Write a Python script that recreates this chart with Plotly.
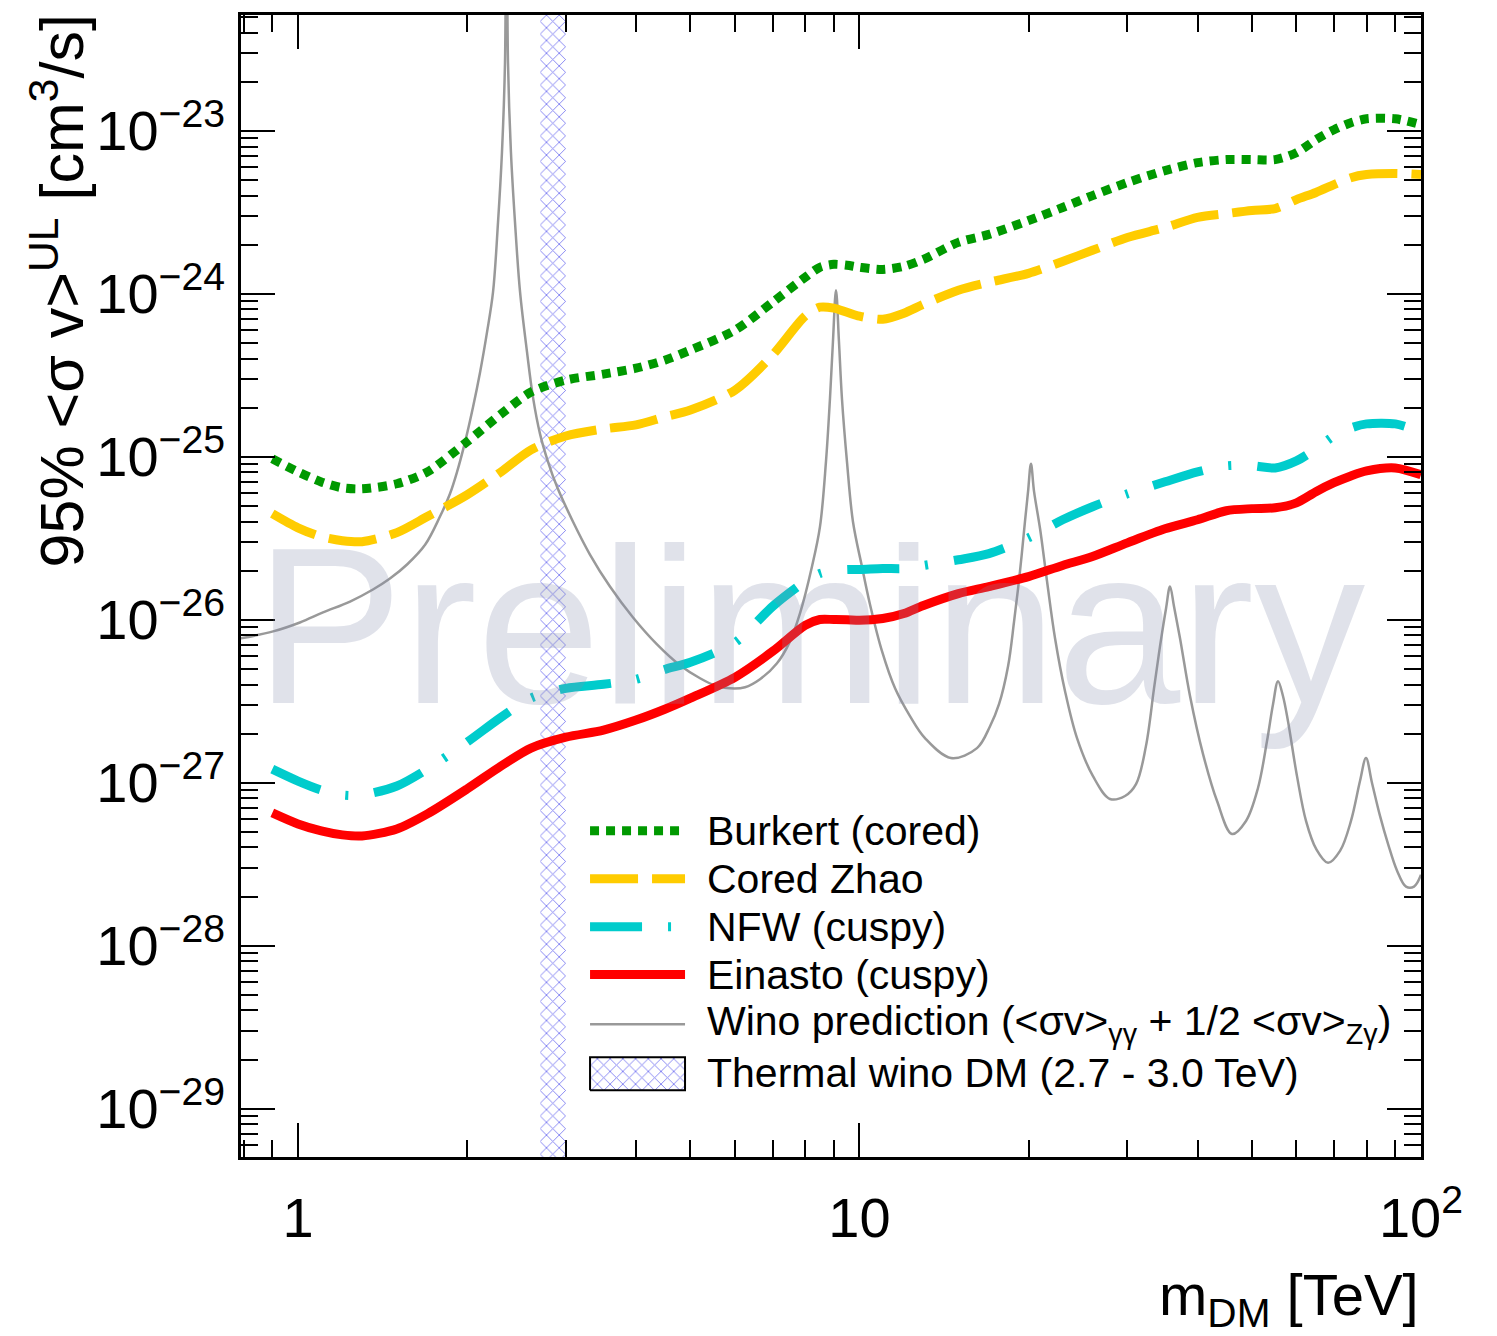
import math
import plotly.graph_objects as go

# ---------------- data ----------------
mass_grid = [0.9, 1.0, 1.1, 1.2, 1.3, 1.5, 1.7, 2.0, 2.3, 2.6,
             3.0, 3.5, 4.0, 4.5, 5.0, 6.0, 7.0, 8.0, 8.5, 9.0,
             9.5, 10, 11, 12, 13, 15, 17, 20, 23, 26,
             30, 35, 40, 45, 50, 55, 60, 65, 70, 75,
             80, 90, 100]

burkert = [9.70e-26, 8.07e-26, 7.00e-26, 6.44e-26, 6.35e-26, 6.82e-26, 8.07e-26, 1.233e-25, 1.828e-25, 2.49e-25,
           2.95e-25, 3.21e-25, 3.49e-25, 3.91e-25, 4.51e-25, 5.97e-25, 8.85e-25, 1.259e-24, 1.452e-24, 1.514e-24,
           1.493e-24, 1.452e-24, 1.409e-24, 1.472e-24, 1.626e-24, 2.065e-24, 2.31e-24, 2.81e-24, 3.38e-24, 4.00e-24,
           4.81e-24, 5.69e-24, 6.37e-24, 6.65e-24, 6.65e-24, 6.65e-24, 7.33e-24, 8.81e-24, 1.014e-23, 1.119e-23,
           1.183e-23, 1.183e-23, 1.089e-23]

cored_zhao = [4.47e-26, 3.66e-26, 3.23e-26, 3.05e-26, 3.01e-26, 3.42e-26, 4.29e-26, 5.83e-26, 8.07e-26, 1.101e-25,
              1.340e-25, 1.479e-25, 1.567e-25, 1.754e-25, 1.932e-25, 2.56e-25, 4.20e-25, 7.28e-25, 8.26e-25, 8.15e-25,
              7.69e-25, 7.28e-25, 6.97e-25, 7.59e-25, 8.61e-25, 1.050e-24, 1.175e-24, 1.334e-24, 1.578e-24, 1.845e-24,
              2.213e-24, 2.55e-24, 2.94e-24, 3.10e-24, 3.24e-24, 3.33e-24, 3.78e-24, 4.18e-24, 4.67e-24, 5.15e-24,
              5.38e-24, 5.46e-24, 5.38e-24]

nfw = [1.211e-27, 1.023e-27, 9.01e-28, 8.40e-28, 8.40e-28, 9.53e-28, 1.211e-27, 1.771e-27, 2.52e-27, 3.30e-27,
       3.79e-27, 4.01e-27, 4.31e-27, 4.95e-27, 5.47e-27, 7.24e-27, 1.205e-26, 1.714e-26, 1.919e-26, 2.00e-26,
       2.03e-26, 2.03e-26, 2.06e-26, 2.06e-26, 2.15e-26, 2.33e-26, 2.54e-26, 3.18e-26, 4.10e-26, 4.93e-26,
       5.92e-26, 7.01e-26, 8.07e-26, 8.79e-26, 8.79e-26, 8.53e-26, 9.42e-26, 1.117e-25, 1.340e-25, 1.500e-25,
       1.589e-25, 1.589e-25, 1.419e-25]

einasto = [6.52e-28, 5.58e-28, 5.06e-28, 4.78e-28, 4.71e-28, 5.20e-28, 6.43e-28, 9.14e-28, 1.265e-27, 1.629e-27,
           1.901e-27, 2.10e-27, 2.42e-27, 2.82e-27, 3.30e-27, 4.43e-27, 6.38e-27, 9.23e-27, 1.002e-26, 1.002e-26,
           1.000e-26, 9.90e-27, 1.016e-26, 1.091e-26, 1.222e-26, 1.445e-26, 1.596e-26, 1.837e-26, 2.15e-26, 2.44e-26,
           2.96e-26, 3.61e-26, 4.10e-26, 4.66e-26, 4.80e-26, 4.86e-26, 5.21e-26, 6.10e-26, 6.92e-26, 7.62e-26,
           8.18e-26, 8.53e-26, 7.74e-26]

wino_mass = [0.79, 0.903, 1.008, 1.108, 1.238, 1.360, 1.458, 1.564, 1.684, 1.790,
             1.865, 1.920, 1.984, 2.050, 2.110, 2.171, 2.225, 2.271, 2.308, 2.337,
             2.351, 2.366, 2.395, 2.435, 2.486, 2.558, 2.621, 2.698, 2.788, 2.893,
             3.089, 3.311, 3.594, 3.951, 4.359, 4.789, 5.200, 5.529, 5.881, 6.254,
             6.650, 7.130, 7.520, 7.834, 8.230, 8.504, 8.715, 8.859, 8.968, 9.081,
             9.193, 9.307, 9.500, 9.736, 10.10, 10.44, 10.97, 11.57, 12.30, 13.08,
             14.55, 16.19, 17.08, 17.72, 18.39, 18.85, 19.31, 19.71, 19.96, 20.20,
             20.46, 20.97, 21.58, 22.30, 23.23, 24.40, 26.05, 27.93, 29.71, 31.08,
             32.37, 33.46, 34.29, 35.15, 35.73, 36.32, 37.23, 38.79, 40.91, 43.33,
             46.07, 48.79, 51.25, 53.18, 54.51, 55.64, 56.79, 57.96, 60.14, 62.40,
             65.02, 68.31, 71.75, 75.04, 77.87, 79.81, 81.80, 84.53, 87.35, 90.65,
             94.04, 97.17, 100.0]

wino_sv = [7.67e-27, 8.47e-27, 9.61e-27, 1.107e-26, 1.291e-26, 1.531e-26, 1.787e-26, 2.18e-26, 2.88e-26, 4.29e-26,
           5.92e-26, 8.07e-26, 1.233e-25, 2.02e-25, 3.30e-25, 5.81e-25, 1.021e-24, 2.74e-24, 7.33e-24, 2.61e-23,
           1.0e-21, 2.61e-23, 7.33e-24, 2.74e-24, 1.021e-24, 4.38e-25, 2.32e-25, 1.380e-25, 9.29e-26, 6.53e-26,
           3.99e-26, 2.51e-26, 1.596e-26, 1.031e-26, 7.05e-27, 5.25e-27, 4.37e-27, 3.95e-27, 3.79e-27, 3.85e-27,
           4.31e-27, 5.40e-27, 7.36e-27, 1.091e-26, 2.12e-26, 3.72e-26, 9.29e-26, 2.26e-25, 5.05e-25, 1.050e-24,
           5.05e-25, 2.26e-25, 9.29e-26, 3.99e-26, 2.12e-26, 1.239e-26, 6.38e-27, 3.79e-27, 2.56e-27, 1.875e-27,
           1.416e-27, 1.629e-27, 2.22e-27, 3.03e-27, 5.18e-27, 9.75e-27, 1.972e-26, 3.99e-26, 6.10e-26, 9.04e-26,
           6.10e-26, 3.61e-26, 1.714e-26, 7.67e-27, 3.64e-27, 1.875e-27, 1.096e-27, 7.94e-28, 8.28e-28, 9.79e-28,
           1.675e-27, 3.79e-27, 6.85e-27, 1.172e-26, 1.596e-26, 1.205e-26, 7.67e-27, 3.39e-27, 1.496e-27, 7.71e-28,
           4.84e-28, 5.82e-28, 9.27e-28, 1.799e-27, 3.03e-27, 4.19e-27, 3.39e-27, 2.38e-27, 1.096e-27, 5.82e-28,
           3.93e-28, 3.22e-28, 3.81e-28, 5.82e-28, 1.023e-27, 1.416e-27, 9.95e-28, 6.25e-28, 4.21e-28, 2.88e-28,
           2.30e-28, 2.30e-28, 2.72e-28]

thermal_band = [2.7, 3.0]   # TeV

assert len(wino_mass) == len(wino_sv), (len(wino_mass), len(wino_sv))
for arr in (burkert, cored_zhao, nfw, einasto):
    assert len(arr) == len(mass_grid)

x_tickvals = [1, 10, 100]
x_ticktext = ["1", "10", "10<sup>2</sup>"]
y_tickvals = [1e-29, 1e-28, 1e-27, 1e-26, 1e-25, 1e-24, 1e-23]
y_ticktext = ["10<sup>\u221229</sup>", "10<sup>\u221228</sup>", "10<sup>\u221227</sup>",
              "10<sup>\u221226</sup>", "10<sup>\u221225</sup>", "10<sup>\u221224</sup>",
              "10<sup>\u221223</sup>"]

legend_labels = ["Burkert (cored)", "Cored Zhao", "NFW (cuspy)", "Einasto (cuspy)",
                 "Wino prediction (&lt;\u03c3v&gt;<sub>\u03b3\u03b3</sub> + 1/2 &lt;\u03c3v&gt;<sub>Z\u03b3</sub>)",
                 "Thermal wino DM (2.7 - 3.0 TeV)"]

# ---------------- styles ----------------
FONT = "Liberation Sans, Arial, Helvetica, sans-serif"
GREEN = "#009900"
YELLOW = "#ffcc00"
CYAN = "#00cccc"
RED = "#ff0000"
GRAY = "#999999"
HATCH = dict(shape="x", fgcolor="#6464ee", fgopacity=0.8, size=9, solidity=0.2)

styles = [
    (burkert, dict(color=GREEN, width=9, dash="9px,7px")),
    (cored_zhao, dict(color=YELLOW, width=9, dash="48px,14px")),
    (nfw, dict(color=CYAN, width=9, dash="52px,26px,3px,26px")),
    (einasto, dict(color=RED, width=9)),
]

fig = go.Figure()

# thermal wino band (hatched)
bx0, bx1 = thermal_band
fig.add_trace(go.Scatter(
    x=[bx0, bx0, bx1, bx1, bx0], y=[1e-31, 1e-21, 1e-21, 1e-31, 1e-31],
    mode="lines", fill="toself", line=dict(width=0), fillcolor="rgba(0,0,0,0)",
    fillpattern=HATCH, hoverinfo="skip", showlegend=False))

# wino prediction
fig.add_trace(go.Scatter(x=wino_mass, y=wino_sv, mode="lines",
                         line=dict(color=GRAY, width=2.5, shape="spline", smoothing=1.0),
                         showlegend=False))

for vals, ln in styles:
    fig.add_trace(go.Scatter(x=mass_grid, y=vals, mode="lines",
                             line=dict(shape="spline", smoothing=0.8, **ln),
                             showlegend=False))

# ---------------- hand-made ROOT-style legend (overlay axes in plot fractions) ----------------
lx0, lx1 = 0.2958, 0.3763
row_y = [0.2856, 0.2437, 0.2017, 0.1598, 0.1162, 0.0734]
legend_line_styles = [s[1] for s in styles] + [dict(color=GRAY, width=2.5)]
for yy, ln in zip(row_y[:5], legend_line_styles):
    fig.add_trace(go.Scatter(x=[lx0, lx1], y=[yy, yy], mode="lines", line=ln,
                             xaxis="x2", yaxis="y2", showlegend=False, hoverinfo="skip"))
fig.add_trace(go.Scatter(x=[lx0, lx0, lx1, lx1, lx0], y=[0.0585, 0.0873, 0.0873, 0.0585, 0.0585],
                         mode="lines", fill="toself", line=dict(color="black", width=2),
                         fillcolor="rgba(0,0,0,0)", fillpattern=HATCH,
                         xaxis="x2", yaxis="y2", showlegend=False, hoverinfo="skip"))

annotations = []
for yy, txt in zip(row_y, legend_labels):
    annotations.append(dict(text=txt, xref="paper", yref="paper", x=0.3932, y=yy,
                            xanchor="left", yanchor="middle", showarrow=False,
                            font=dict(size=41, family=FONT, color="black")))

# watermark
annotations.append(dict(text="Preliminary", xref="paper", yref="paper", x=0.482, y=0.4646,
                        xanchor="center", yanchor="middle", showarrow=False,
                        font=dict(size=222, family=FONT, color="rgba(130,140,170,0.25)")))

# axis titles
annotations.append(dict(text="95% &lt;\u03c3 v&gt;<sup>UL</sup> [cm<sup>3</sup>/s]",
                        xref="paper", yref="paper", x=-0.155, y=0.758, textangle=-90,
                        xanchor="center", yanchor="middle", showarrow=False,
                        font=dict(size=61, family=FONT, color="black")))
annotations.append(dict(text="m<sub>DM</sub> [TeV]", xref="paper", yref="paper", x=1.0, y=-0.124,
                        xanchor="right", yanchor="middle", showarrow=False,
                        font=dict(size=58, family=FONT, color="black")))

x_minor = [0.8, 0.9] + [k for k in range(2, 10)] + [10 * k for k in range(2, 10)]
y_minor = [k * 10.0 ** n for n in range(-30, -22) for k in range(2, 10)]

axis_common = dict(type="log", ticks="inside", ticklen=34, tickwidth=2, tickcolor="black",
                   showline=True, linecolor="black", linewidth=2.5, mirror="allticks",
                   showgrid=False, zeroline=False, tickmode="array",
                   tickfont=dict(size=56, family=FONT, color="black"))

fig.update_layout(
    width=1497, height=1336,
    margin=dict(l=233, r=84, t=4, b=187),
    paper_bgcolor="white", plot_bgcolor="white",
    showlegend=False,
    font=dict(family=FONT, color="black"),
    xaxis=dict(range=[math.log10(0.7916), 2.0], tickvals=x_tickvals, ticktext=x_ticktext,
               ticklabelstandoff=10,
               minor=dict(tickmode="array", tickvals=x_minor, ticks="inside", ticklen=17,
                          tickwidth=2, tickcolor="black", showgrid=False),
               **axis_common),
    yaxis=dict(range=[-29.297, -22.290], tickvals=y_tickvals, ticktext=y_ticktext,
               ticklabelstandoff=2,
               minor=dict(tickmode="array", tickvals=y_minor, ticks="inside", ticklen=17,
                          tickwidth=2, tickcolor="black", showgrid=False),
               **axis_common),
    xaxis2=dict(overlaying="x", range=[0, 1], visible=False, anchor="y2"),
    yaxis2=dict(overlaying="y", range=[0, 1], visible=False, anchor="x2"),
    annotations=annotations,
)

fig.write_html("out.html")
